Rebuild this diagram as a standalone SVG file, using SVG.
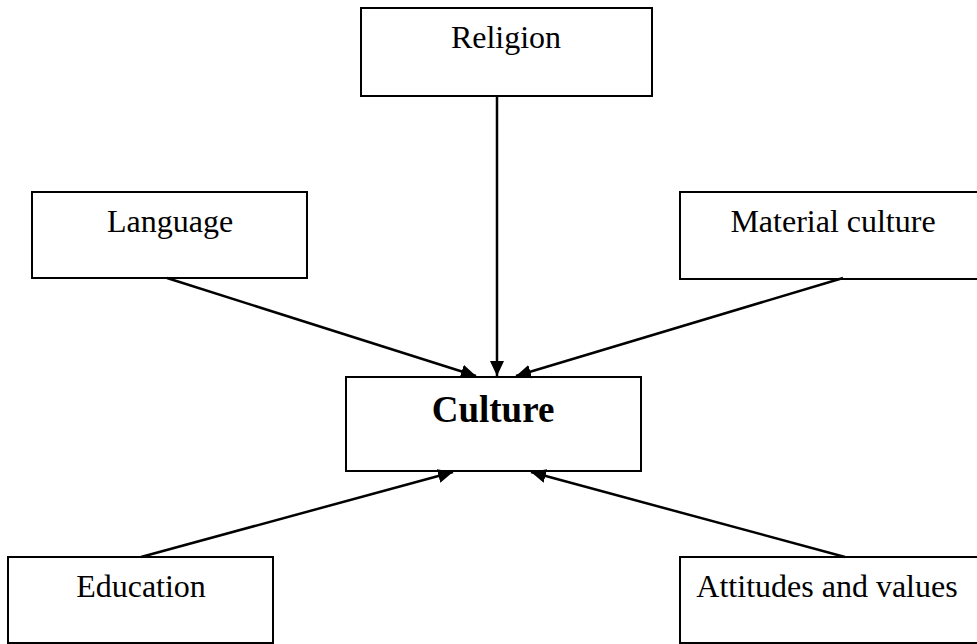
<svg xmlns="http://www.w3.org/2000/svg" width="977" height="644" viewBox="0 0 977 644">
<style>
.box{fill:#fff;stroke:#000;stroke-width:2}
.lbl{font-family:"Liberation Serif","Times New Roman",serif;font-size:32px;fill:#000;text-anchor:middle}
.big{font-size:37px;font-weight:bold}
.conn{stroke:#000;stroke-width:2.5;fill:none}
</style>
<defs>
<marker id="ah" markerUnits="userSpaceOnUse" markerWidth="16" markerHeight="14" refX="15" refY="7" orient="auto">
<path d="M0,0 L15,7 L0,14 z" fill="#000"/>
</marker>
</defs>
<rect width="977" height="644" fill="#fff"/>
<g id="religion"><rect class="box" x="361" y="8" width="291" height="88"/><text class="lbl" x="506" y="48">Religion</text></g>
<g id="language"><rect class="box" x="32" y="192" width="275" height="86"/><text class="lbl" x="170" y="232">Language</text></g>
<g id="material"><rect class="box" x="680" y="192" width="310" height="87"/><text class="lbl" x="833" y="232">Material culture</text></g>
<g id="culture"><rect class="box" x="346" y="377" width="295" height="94"/><text class="lbl big" x="493" y="422">Culture</text></g>
<g id="education"><rect class="box" x="8" y="557" width="265" height="86"/><text class="lbl" x="141" y="597">Education</text></g>
<g id="attitudes"><rect class="box" x="680" y="557" width="310" height="86"/><text class="lbl" x="827" y="597">Attitudes and values</text></g>
<g id="connectors">
<line class="conn" x1="497" y1="96" x2="497" y2="376" marker-end="url(#ah)"/>
<line class="conn" x1="167" y1="278" x2="476" y2="376" marker-end="url(#ah)"/>
<line class="conn" x1="843" y1="278" x2="516" y2="376" marker-end="url(#ah)"/>
<line class="conn" x1="141" y1="557" x2="453" y2="472" marker-end="url(#ah)"/>
<line class="conn" x1="845" y1="557" x2="531" y2="472" marker-end="url(#ah)"/>
</g>
</svg>
